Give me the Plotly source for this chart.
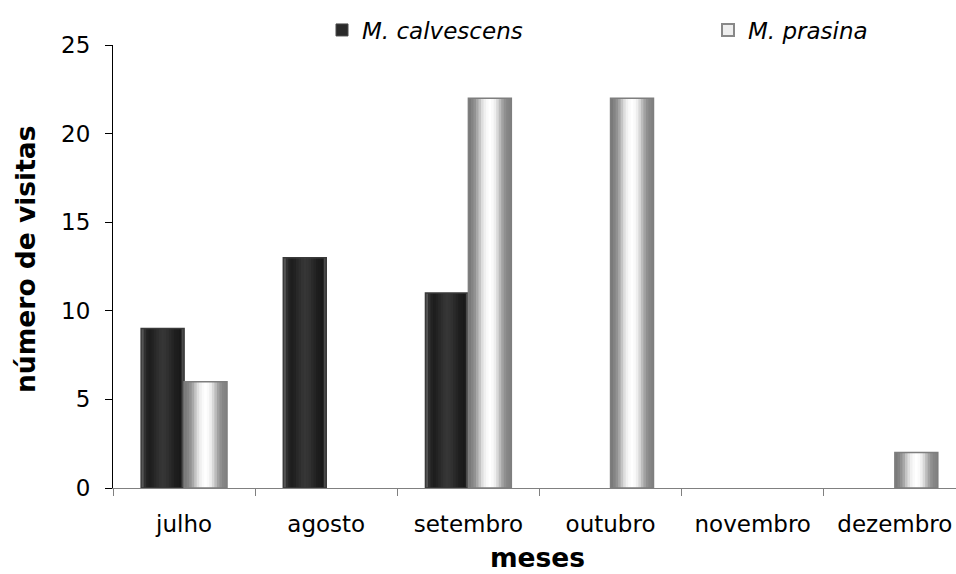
import plotly.graph_objects as go

categories = ["julho", "agosto", "setembro", "outubro", "novembro", "dezembro"]
calvescens = [9, 13, 11, 0, 0, 0]
prasina = [6, 0, 22, 22, 0, 2]
series_names = ["<i>M. calvescens</i>", "<i>M. prasina</i>"]
y_ticks = [0, 5, 10, 15, 20, 25]
x_title = "<b>meses</b>"
y_title = "<b>número de visitas</b>"

FONT = "DejaVu Sans, Liberation Sans, Arial, sans-serif"
BAR_W = 0.302
L, R, T, B = 113, 0, 45, 86
W, H = 956, 574
PW, PH = W - L - R, H - T - B

dark_profile = [0x55, 0x30, 0x22, 0x1e, 0x22, 0x28, 0x2e, 0x33, 0x36, 0x34, 0x30, 0x2a, 0x24, 0x1e, 0x1c, 0x1a, 0x4a]
light_profile = [0x7a, 0x84, 0x92, 0xa8, 0xc4, 0xde, 0xf0, 0xfa, 0xff, 0xfa, 0xee, 0xd8, 0xbc, 0xa2, 0x90, 0x86, 0x82]


def gray(v):
    return f"rgb({v},{v},{v})"


def nz(vals):
    return [v if v else None for v in vals]


fig = go.Figure()


def add_series(vals, profile, base_off, outline):
    n = len(profile)
    sw = BAR_W / n
    yv = nz(vals)
    for i, g in enumerate(profile):
        w = sw * 2 if i < n - 1 else sw
        fig.add_trace(go.Bar(
            x=categories, y=yv, width=[w] * len(categories),
            offset=base_off + i * sw, marker=dict(color=gray(g), line=dict(width=0)),
            showlegend=False, hoverinfo="skip"))
    fig.add_trace(go.Bar(
        x=categories, y=yv, width=[BAR_W] * len(categories), offset=base_off,
        marker=dict(color="rgba(0,0,0,0)", line=dict(color=outline, width=1.5)),
        showlegend=False, hoverinfo="skip"))


add_series(calvescens, dark_profile, -BAR_W, "#3a3a3a")
add_series(prasina, light_profile, 0.0, "#7e7e7e")

fig.add_trace(go.Bar(x=[None], y=[None], name=series_names[0], legend="legend",
                     marker=dict(color="#2a2a2a", line=dict(color="#4a4a4a", width=1))))
fig.add_trace(go.Bar(x=[None], y=[None], name=series_names[1], legend="legend2",
                     marker=dict(color="#eeeeee", line=dict(color="#888888", width=2))))

leg_common = dict(orientation="h", yref="container", y=1 - 30 / H, yanchor="middle",
                  xanchor="left", font=dict(size=23, family=FONT), bgcolor="rgba(0,0,0,0)",
                  borderwidth=0)

fig.update_layout(
    width=W, height=H,
    margin=dict(l=L, r=R, t=T, b=B, autoexpand=False),
    paper_bgcolor="white", plot_bgcolor="white",
    barmode="overlay",
    font=dict(family=FONT, color="black", size=23),
    showlegend=True,
    legend=dict(x=(322 - L) / PW, **leg_common),
    legend2=dict(x=(708 - L) / PW, **leg_common),
    xaxis=dict(type="category", range=[-0.5, 5.43], tickson="boundaries",
               showline=True, linecolor="#808080", linewidth=1,
               ticks="outside", ticklen=7, tickcolor="#808080",
               showgrid=False, zeroline=False, automargin=False,
               tickfont=dict(size=23), ticklabelstandoff=15),
    yaxis=dict(range=[0, 25], tickvals=y_ticks, showline=True, linecolor="black", linewidth=1,
               ticks="outside", ticklen=7, tickcolor="black",
               showgrid=False, zeroline=False, automargin=False,
               tickfont=dict(size=23), ticklabelstandoff=10),
    annotations=[
        dict(text=x_title, xref="paper", yref="paper", x=(537 - L) / PW, y=-(557 - (T + PH)) / PH,
             xanchor="center", yanchor="middle", showarrow=False, font=dict(size=26.5, family=FONT)),
        dict(text=y_title, xref="paper", yref="paper", x=(25 - L) / PW, y=((T + PH) - 259) / PH,
             xanchor="center", yanchor="middle", textangle=-90, showarrow=False,
             font=dict(size=26.5, family=FONT)),
    ],
)

fig.write_html("out.html", config={"displayModeBar": False},
               post_script="document.body.style.margin='0';document.body.style.overflow='hidden';")
